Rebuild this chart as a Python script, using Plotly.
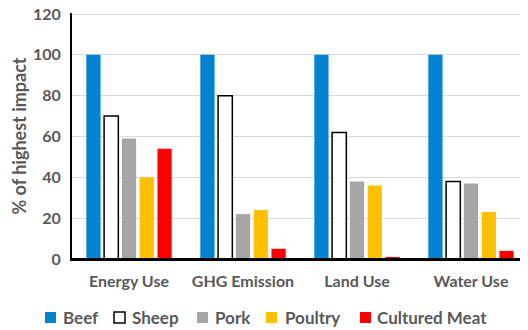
import plotly.graph_objects as go

# impact categories and relative values (% of highest impact)
categories = ["Energy Use", "GHG Emission", "Land Use", "Water Use"]
beef = [100, 100, 100, 100]
sheep = [70, 80, 62, 38]
pork = [59, 22, 38, 37]
poultry = [40, 24, 36, 23]
cultured = [54, 5, 1, 4]

series = [
    ("Beef", beef, "#0483D2", "#0483D2"),
    ("Sheep", sheep, "white", "black"),
    ("Pork", pork, "#A6A6A6", "#A6A6A6"),
    ("Poultry", poultry, "#FFC000", "#FFC000"),
    ("Cultured Meat", cultured, "#FF0000", "#FF0000"),
]

font_fam = "Lato, Open Sans, sans-serif"
grey = "#595959"

# page body has an 8px margin, so the figure is a bit smaller than the window
W, H = 520, 322
L, R, T, B = 64, 0, 5, 71
pw, ph = W - L - R, H - T - B


def px_x(fx):
    return (fx - L) / pw


def px_y(fy):
    return (T + ph - fy) / ph


fig = go.Figure()
for name, vals, fill, edge in series:
    fig.add_trace(go.Bar(
        x=categories, y=vals, name=name, showlegend=False,
        marker=dict(color=fill, line=dict(color=edge, width=1.5 if fill == "white" else 0))))

# hand-made legend row below the plot (plotly's own legend wraps at this width)
legend_sq = [37, 106, 189, 258, 352]
legend_txt = [53, 122, 205, 275, 367]
for (name, vals, fill, edge), sx, tx in zip(series, legend_sq, legend_txt):
    fig.add_shape(type="rect", xref="paper", yref="paper",
                  x0=px_x(sx), x1=px_x(sx + 11), y0=px_y(315), y1=px_y(304),
                  fillcolor=fill, line=dict(color=edge, width=1.5 if fill == "white" else 0))
    fig.add_annotation(text=name, xref="paper", yref="paper", x=px_x(tx), y=px_y(309),
                       xanchor="left", yanchor="middle", showarrow=False,
                       font=dict(size=17, color=grey, weight="bold"))

# bottom axis line (drawn as a shape, the x axis line kept vanishing)
fig.add_shape(type="line", xref="paper", yref="y", x0=0, x1=1, y0=0, y1=0,
              line=dict(color="black", width=2))

fig.update_layout(
    width=W, height=H,
    barmode="group", bargap=0.22, bargroupgap=0.2,
    plot_bgcolor="white", paper_bgcolor="white",
    margin=dict(l=L, r=R, t=T, b=B, autoexpand=False),
    font=dict(family=font_fam, color=grey, size=15),
    showlegend=False,
    xaxis=dict(showline=True, linecolor="black", linewidth=2, ticks="outside", ticklen=7,
               tickcolor="rgba(0,0,0,0)",
               tickfont=dict(size=16, color=grey, weight="bold")),
    yaxis=dict(range=[0, 120.5], tickvals=[0, 20, 40, 60, 80, 100, 120],
               showline=True, linecolor="black", linewidth=2, ticklabeloverflow="allow",
               gridcolor="#D9D9D9", gridwidth=1, zeroline=False, ticks="outside", ticklen=6,
               tickcolor="rgba(0,0,0,0)",
               tickfont=dict(size=16, color=grey, weight="bold"),
               title=dict(text="% of highest impact", font=dict(size=18, color=grey, weight="bold"),
                          standoff=10)),
)

fig.write_html("out.html")
